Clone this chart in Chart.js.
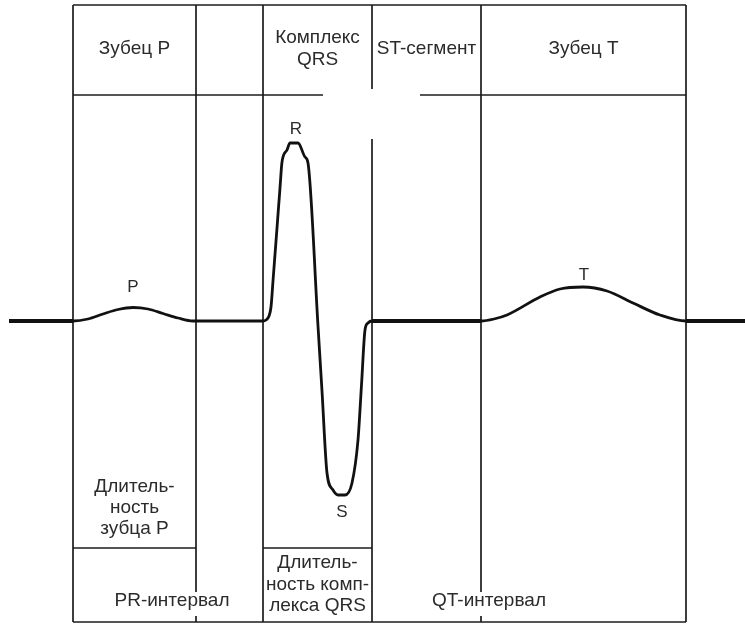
<!DOCTYPE html>
<html><head><meta charset="utf-8">
<script src="https://cdn.jsdelivr.net/npm/chart.js@4"></script>
<style>html,body{margin:0;padding:0;background:#fff}#wrap{width:745px;height:624px;position:relative}</style>
</head><body><div id="wrap"><canvas id="c"></canvas></div>
<script>
// ECG waveform samples: time (ms from P onset) and amplitude (mV)
const timeMs = [-64, 0, 15, 30, 45, 60, 75, 90, 105, 120, 190, 193, 196, 198, 200, 204, 207, 209, 214, 217, 225, 232, 235, 245, 249, 254, 260, 265, 272, 279, 285, 288.5, 292, 295, 299, 408, 421, 434, 467, 487, 510, 534, 560, 587, 613, 672];
const amplitudeMv = [0, 0, 0.02, 0.07, 0.115, 0.135, 0.12, 0.075, 0.03, 0, 0, 0.01, 0.05, 0.14, 0.40, 0.93, 1.33, 1.59, 1.71, 1.78, 1.78, 1.64, 1.58, -0.05, -0.70, -1.52, -1.69, -1.74, -1.74, -1.62, -1.19, -0.64, -0.09, -0.02, 0, 0, 0.02, 0.06, 0.24, 0.32, 0.34, 0.30, 0.18, 0.06, 0, 0];

// Boundaries of the ECG parts (ms from P onset)
const boundaryMs = [0, 123, 190, 299, 408, 613];

// Texts
const headerLabels = [['Зубец P'], [], ['Комплекс', 'QRS'], ['ST-сегмент'], ['Зубец T']];
const waveLabels = ['P', 'R', 'S', 'T'];
const durationLabels = [['Длитель-', 'ность', 'зубца P'], ['Длитель-', 'ность комп-', 'лекса QRS']];
const intervalLabels = ['PR-интервал', 'QT-интервал'];

const FONT = '"Liberation Sans", Arial, sans-serif';
const INK = '#1c1c1c';
const TXT = '#2b2b2b';

const ecgFrame = {
  id: 'ecgFrame',
  beforeDatasetsDraw(chart) {
    const {ctx, scales: {x, y}} = chart;
    const X = v => x.getPixelForValue(v), Y = v => y.getPixelForValue(v);
    const b = boundaryMs;
    const top = 3.16, head = 2.26, box = -2.27, bot = -3.01;
    ctx.save();
    ctx.strokeStyle = INK; ctx.lineWidth = 1.7; ctx.lineCap = 'butt';
    const seg = (x1, y1, x2, y2) => { ctx.beginPath(); ctx.moveTo(X(x1), Y(y1)); ctx.lineTo(X(x2), Y(y2)); ctx.stroke(); };
    seg(b[0], top, b[5], top);
    seg(b[0], bot, b[5], bot);
    seg(b[0], top, b[0], bot);
    seg(b[5], top, b[5], bot);
    seg(b[0], head, 250, head);
    seg(347, head, b[5], head);
    seg(b[1], top, b[1], bot);
    seg(b[2], top, b[2], bot);
    seg(b[3], top, b[3], 2.32);
    seg(b[3], 1.82, b[3], bot);
    seg(b[4], top, b[4], bot);
    seg(b[0], box, b[1], box);
    seg(b[2], box, b[3], box);
    ctx.restore();
  },
  afterDatasetsDraw(chart) {
    const {ctx, scales: {x, y}} = chart;
    const X = v => x.getPixelForValue(v), Y = v => y.getPixelForValue(v);
    const b = boundaryMs;
    ctx.save();
    ctx.fillStyle = TXT;
    ctx.textAlign = 'center'; ctx.textBaseline = 'middle';
    ctx.font = '19px ' + FONT;
    headerLabels.forEach((lines, i) => {
      const cx = (X(b[i]) + X(b[i + 1])) / 2;
      const n = lines.length;
      const cy = Y(2.72);
      lines.forEach((t, k) => ctx.fillText(t, cx, cy + (k - (n - 1) / 2) * 22));
    });
    const dPos = [[(b[0] + b[1]) / 2, [-1.66, -1.87, -2.08]], [(b[2] + b[3]) / 2, [-2.42, -2.635, -2.85]]];
    durationLabels.forEach((lines, i) => {
      lines.forEach((t, k) => ctx.fillText(t, X(dPos[i][0]), Y(dPos[i][1][k])));
    });
    const iPos = [99, 416];
    intervalLabels.forEach((t, i) => {
      const cx = X(iPos[i]), cy = Y(-2.80);
      const w = ctx.measureText(t).width;
      ctx.fillStyle = '#fff';
      ctx.fillRect(cx - w / 2 - 2, cy - 9, w + 4, 24);
      ctx.fillStyle = TXT;
      ctx.fillText(t, cx, cy);
    });
    ctx.font = '17px ' + FONT;
    const wPos = [[60, 0.34], [223, 1.92], [269, -1.91], [511, 0.46]];
    waveLabels.forEach((t, i) => ctx.fillText(t, X(wPos[i][0]), Y(wPos[i][1])));
    ctx.restore();
  }
};

const thick = (a, c) => a < 0 || (a >= boundaryMs[3] && c <= boundaryMs[4]) || a >= boundaryMs[5];

new Chart(document.getElementById('c'), {
  type: 'line',
  data: {
    datasets: [{
      data: timeMs.map((t, i) => ({x: t, y: amplitudeMv[i]})),
      borderColor: '#111',
      borderWidth: 2.8,
      pointRadius: 0,
      fill: false,
      cubicInterpolationMode: 'monotone',
      borderJoinStyle: 'round',
      segment: {
        borderWidth: c => thick(c.p0.parsed.x, c.p1.parsed.x) ? 4.2 : 2.8
      }
    }]
  },
  options: {
    responsive: true,
    maintainAspectRatio: false,
    animation: false,
    events: [],
    layout: {padding: 0},
    scales: {
      x: {type: 'linear', min: -73, max: 672, display: false},
      y: {type: 'linear', min: -3.03, max: 3.21, display: false}
    },
    plugins: {legend: {display: false}, tooltip: {enabled: false}}
  },
  plugins: [ecgFrame]
});
</script>
</body></html>
